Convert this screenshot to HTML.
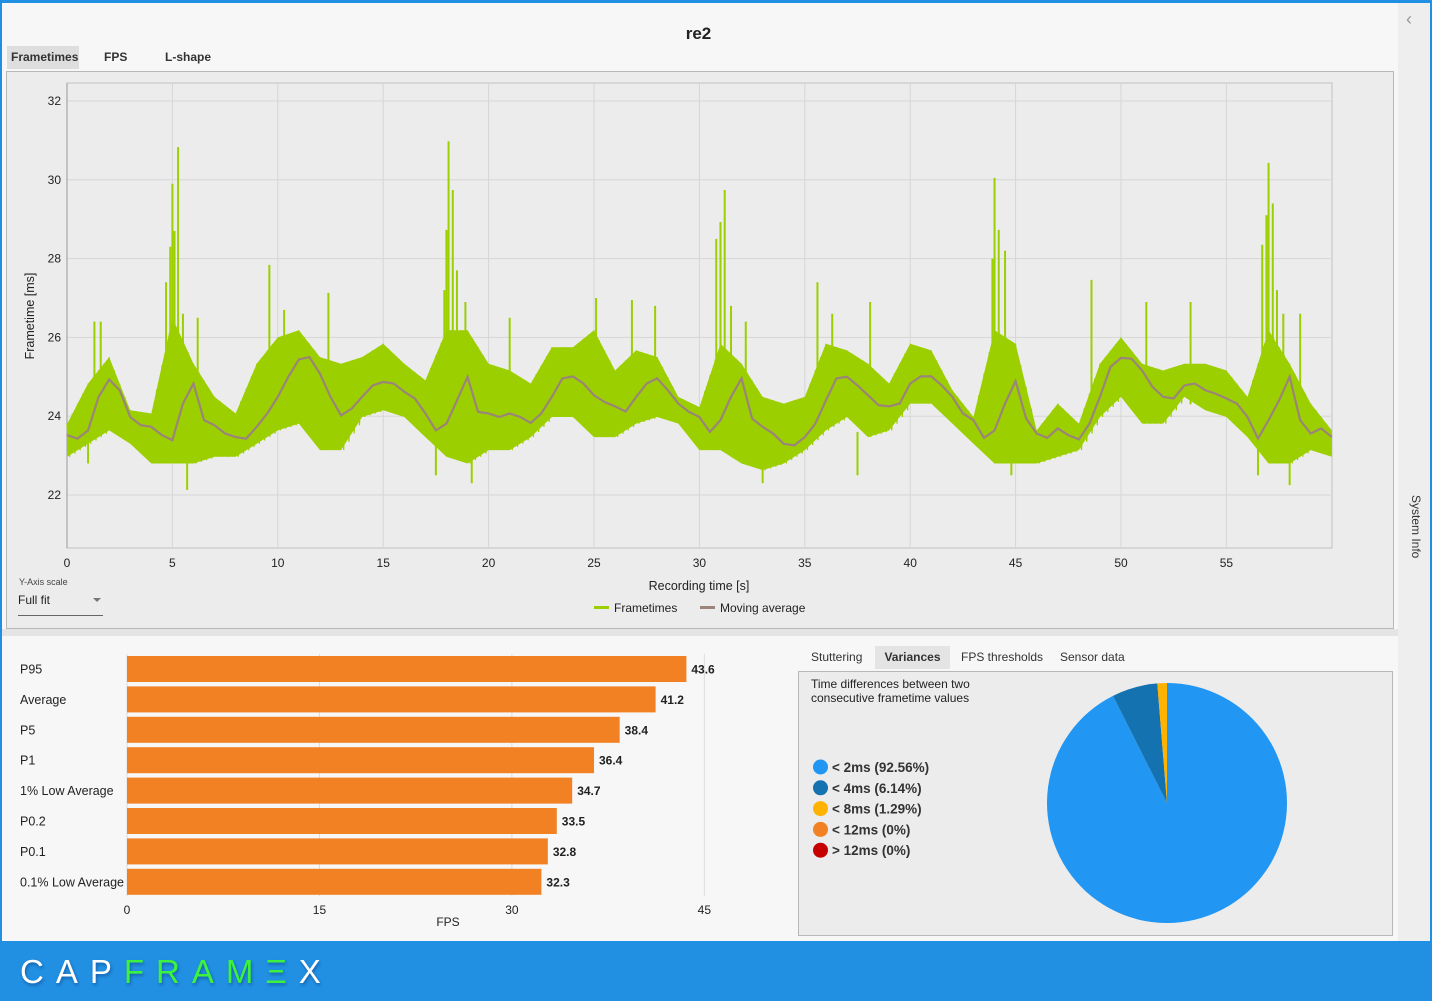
<!DOCTYPE html>
<html><head><meta charset="utf-8">
<style>
*{margin:0;padding:0;box-sizing:border-box}
body{width:1432px;height:1001px;background:#2190e3;position:relative;overflow:hidden;font-family:"Liberation Sans",Arial,sans-serif;color:#222}
.abs{position:absolute}
#main{left:2px;top:3px;width:1396px;height:938px;background:#f7f7f7}
#side{left:1398px;top:3px;width:32px;height:938px;background:#eeeeee}
.tab{position:absolute;font-size:12px;font-weight:bold;color:#333;padding:0 4px;height:23px;line-height:23px}
</style></head><body>
<div id="main" class="abs"></div>
<div id="side" class="abs">
  <div class="abs" style="left:8px;top:6px;font-size:18px;color:#999">&#8249;</div>
  <div class="abs" style="left:-12px;top:515px;width:60px;transform:rotate(90deg);font-size:12px;color:#333;white-space:nowrap">System Info</div>
</div>
<div class="abs" style="left:0;width:1397px;top:24px;text-align:center;font-size:17px;font-weight:bold;color:#222">re2</div>
<div class="tab" style="left:7px;top:46px;width:72px;background:#dedede">Frametimes</div>
<div class="tab" style="left:100px;top:46px">FPS</div>
<div class="tab" style="left:161px;top:46px">L-shape</div>
<div class="abs" style="left:6px;top:71px;width:1388px;height:558px;background:#ececec;border:1px solid #b8b8b8"></div>
<div class="abs" style="left:2px;top:629px;width:1396px;height:7px;background:#e4e4e4"></div>

<svg class="abs" style="left:0;top:0" width="1432" height="1001">
<g id="ft"></g>
</svg>

<div class="abs" style="left:19px;top:577px;font-size:9px;color:#444">Y-Axis scale</div>
<div class="abs" style="left:18px;top:593px;width:85px;height:23px;border-bottom:1px solid #666;font-size:12px;color:#222">Full fit<span style="position:absolute;right:2px;top:5px;width:0;height:0;border-left:4px solid transparent;border-right:4px solid transparent;border-top:4px solid #777"></span></div>

<div class="tab" style="left:807px;top:646px;font-weight:normal;color:#333">Stuttering</div>
<div class="tab" style="left:875px;top:646px;width:75px;text-align:center;background:#e4e4e4">Variances</div>
<div class="tab" style="left:957px;top:646px;font-weight:normal;color:#333">FPS thresholds</div>
<div class="tab" style="left:1056px;top:646px;font-weight:normal;color:#333">Sensor data</div>
<div class="abs" style="left:798px;top:671px;width:595px;height:265px;background:#ececec;border:1px solid #b8b8b8"></div>
<div class="abs" style="left:811px;top:677px;font-size:12px;line-height:14px;color:#222">Time differences between two<br>consecutive frametime values</div>

<svg class="abs" style="left:0;top:0" width="1432" height="1001">
<g id="bars"></g><g id="pie"></g>
</svg>

<div class="abs" style="left:0;top:941px;width:1432px;height:60px;background:#2190e3"></div>
<div class="abs" style="left:20px;top:953px;font-size:33px;letter-spacing:12px;font-weight:normal;white-space:nowrap;text-shadow:1px 2px 3px rgba(0,0,60,.35)"><span style="color:#fff">CAP</span><span style="color:#3cf23c">FRAM&#926;</span><span style="color:#fff">X</span></div>

<script>
// ---- Frametime chart data ----
const maTimes = [];
const maValues = [23.52,23.43,23.64,24.49,24.93,24.66,23.98,23.77,23.73,23.52,23.39,24.32,24.83,23.9,23.77,23.56,23.47,23.43,23.73,24.07,24.49,25.0,25.44,25.5,25.08,24.49,24.02,24.19,24.49,24.78,24.87,24.83,24.62,24.45,24.07,23.64,23.81,24.4,25.0,24.11,24.07,23.98,24.07,23.98,23.83,24.07,24.49,24.96,25.01,24.83,24.53,24.36,24.25,24.12,24.49,24.83,24.96,24.66,24.32,24.11,23.98,23.6,23.9,24.49,24.96,23.94,23.73,23.56,23.3,23.26,23.47,23.81,24.4,24.96,25.0,24.78,24.53,24.28,24.25,24.32,24.83,25.01,25.01,24.78,24.49,24.07,23.9,23.45,23.64,24.32,24.89,23.94,23.56,23.45,23.69,23.52,23.41,23.81,24.49,25.25,25.48,25.46,25.16,24.74,24.49,24.45,24.78,24.83,24.66,24.57,24.45,24.32,23.98,23.43,23.9,24.4,25.0,23.9,23.56,23.69,23.47];
const ftHigh = [23.8,24.83,25.5,24.15,24.07,26.5,25.33,24.49,24.07,25.33,26.0,26.18,25.5,25.33,25.5,25.84,25.33,24.91,26.18,26.18,25.33,25.16,24.83,25.75,25.75,26.18,25.16,25.67,25.5,24.49,24.23,25.84,25.33,24.49,24.32,24.49,25.84,25.67,25.33,24.83,25.84,25.67,24.66,23.98,26.18,25.84,23.64,24.32,23.81,25.33,26.0,25.33,25.16,25.33,25.33,25.16,24.49,26.18,25.33,24.32,23.64];
const ftLow = [22.97,23.3,23.64,23.3,22.8,22.8,22.8,22.97,22.97,23.3,23.64,23.81,23.14,23.14,23.98,24.15,23.98,23.47,22.97,22.8,23.14,23.14,23.47,23.98,23.98,23.47,23.47,23.81,23.98,23.81,23.14,23.14,22.8,22.63,22.8,23.14,23.64,23.98,23.47,23.64,24.32,24.32,23.81,23.3,22.8,22.8,22.8,22.97,23.14,23.98,24.49,23.81,23.81,24.49,24.15,23.98,23.47,22.8,22.8,23.14,22.97];
const spikeTimes = [1.3,1.6,4.7,4.9,5.0,5.1,5.27,5.5,6.2,9.6,10.3,12.4,17.9,18.0,18.1,18.3,18.5,18.9,21.0,25.1,26.8,27.9,30.8,31.0,31.2,31.5,32.2,35.6,36.3,38.1,43.9,44.0,44.2,44.5,48.6,51.2,53.3,56.7,56.9,57.0,57.2,57.4,57.7,58.5,1.0,5.7,17.5,19.2,33.0,37.5,44.8,56.5,58.0];
const spikeValues = [26.4,26.4,27.4,28.3,29.9,28.7,30.83,26.6,26.5,27.84,26.7,27.13,27.2,28.73,30.98,29.74,27.7,26.9,26.5,27.0,26.95,26.8,28.5,28.93,29.74,26.8,26.4,27.4,26.6,26.9,28.0,30.05,28.73,28.2,27.46,26.9,26.9,28.35,29.1,30.43,29.4,27.2,26.6,26.6,22.8,22.13,22.5,22.3,22.3,22.5,22.5,22.5,22.25];
const xTicks = [0,5,10,15,20,25,30,35,40,45,50,55];
const yTicks = [22,24,26,28,30,32];

// ---- Bar chart data ----
const barLabels = ["P95","Average","P5","P1","1% Low Average","P0.2","P0.1","0.1% Low Average"];
const barValues = [43.6,41.2,38.4,36.4,34.7,33.5,32.8,32.3];
const barTicks = [0,15,30,45];

// ---- Pie data ----
const pieLabels = ["< 2ms (92.56%)","< 4ms (6.14%)","< 8ms (1.29%)","< 12ms (0%)","> 12ms (0%)"];
const pieValues = [92.56,6.14,1.29,0,0];
const pieColors = ["#2196f3","#1472b0","#ffb300","#f28123","#c40000"];

for (let i=0;i<maValues.length;i++) maTimes.push(i*0.5);

const NS="http://www.w3.org/2000/svg";
function mk(tag, attrs, parent){const e=document.createElementNS(NS,tag);for(const k in attrs)e.setAttribute(k,attrs[k]);parent.appendChild(e);return e;}

const PL=67, PR=1332, PT=83, PB=548;
const xs = t => PL + t*21.08;
const ys = v => 495 - (v-22)*39.4;
const g = document.getElementById('ft');

const area = mk('rect',{x:PL,y:PT,width:PR-PL,height:PB-PT,fill:'#ececec',stroke:'#c2c2c2','stroke-width':1},g);


xTicks.forEach(t=>{
  const l=mk('line',{x1:xs(t),x2:xs(t),y1:PT,y2:PB,stroke:'#d6d6d6'},g);
  
  
  const tx=mk('text',{x:xs(t),y:567,'text-anchor':'middle','font-size':12,fill:'#222'},g);
  tx.textContent=t;
  
  
});
yTicks.forEach(v=>{
  const l=mk('line',{x1:PL,x2:PR,y1:ys(v),y2:ys(v),stroke:'#d6d6d6'},g);
  
  
  const tx=mk('text',{x:61,y:ys(v)+4,'text-anchor':'end','font-size':12,fill:'#222'},g);
  tx.textContent=v;
  
  
});
mk('line',{x1:PL,x2:PL,y1:PT,y2:PB,stroke:'#999'},g);

let pts=[];
for(let i=0;i<ftHigh.length;i++) pts.push(xs(Math.min(i,60))+','+ys(ftHigh[i]));
for(let i=ftLow.length-1;i>=0;i--) pts.push(xs(Math.min(i,60))+','+ys(ftLow[i]));
const band=mk('polygon',{points:pts.join(' '),fill:'#9ccf00'},g);


let zz='';
for(let i=0;i<ftHigh.length-1;i++){
  for(let k=0;k<4;k++){
    const f=k/4, t=i+f;
    const hi=ftHigh[i]*(1-f)+ftHigh[i+1]*f, lo=ftLow[i]*(1-f)+ftLow[i+1]*f;
    zz+=xs(t)+','+ys(hi)+' '+xs(t+0.125)+','+ys(lo)+' ';
  }
}
const zl=mk('polyline',{points:zz,fill:'none',stroke:'#9ccf00','stroke-width':1.2},g);


spikeTimes.forEach((t,i)=>{
  const v=spikeValues[i];
  const base = v>24 ? 24.3 : 23.6;
  const s=mk('line',{x1:xs(t),x2:xs(t),y1:ys(base),y2:ys(v),stroke:'#9ccf00','stroke-width':2},g);
  
  
});
const ma=mk('polyline',{points:maTimes.map((t,i)=>xs(t)+','+ys(maValues[i])).join(' '),fill:'none',stroke:'#9b847a','stroke-width':2.2},g);



let t1=mk('text',{x:699,y:590,'text-anchor':'middle','font-size':12.5,fill:'#222'},g);
t1.textContent='Recording time [s]';


let t2=mk('text',{x:0,y:0,'text-anchor':'middle','font-size':12.5,fill:'#222',transform:'translate(34,316) rotate(-90)'},g);
t2.textContent='Frametime [ms]';


let lg1=mk('line',{x1:594,x2:609,y1:607.5,y2:607.5,stroke:'#9ccf00','stroke-width':3},g);


let lt1=mk('text',{x:614,y:612,'font-size':12,fill:'#222'},g);
lt1.textContent='Frametimes';


let lg2=mk('line',{x1:700,x2:715,y1:607.5,y2:607.5,stroke:'#9b847a','stroke-width':3},g);


let lt2=mk('text',{x:720,y:612,'font-size':12,fill:'#222'},g);
lt2.textContent='Moving average';



const bg=document.getElementById('bars');
const bx = v => 127 + v*12.83;
barTicks.forEach(v=>{
  const l=mk('line',{x1:bx(v),x2:bx(v),y1:654,y2:896,stroke:'#dddddd'},bg);
  
  
  const tx=mk('text',{x:bx(v),y:914,'text-anchor':'middle','font-size':12,fill:'#222'},bg);
  tx.textContent=v;
  
  
});
barLabels.forEach((lab,i)=>{
  const cy=669+i*30.4;
  const r=mk('rect',{x:bx(0),y:cy-13,width:bx(barValues[i])-bx(0),height:26,fill:'#f28123'},bg);
  
  
  const tl=mk('text',{x:20,y:cy+4.5,'font-size':12.5,fill:'#222'},bg);
  tl.textContent=lab;
  
  
  const tv=mk('text',{x:bx(barValues[i])+5,y:cy+4.5,'font-size':12,'font-weight':'bold',fill:'#222'},bg);
  tv.textContent=barValues[i];
  
  
});
const fx=mk('text',{x:448,y:926,'text-anchor':'middle','font-size':12,fill:'#222'},bg);
fx.textContent='FPS';



const pg=document.getElementById('pie');
const cx=1167, cy=803, R=120;
const total=pieValues.reduce((a,b)=>a+b,0);
let ang=0;
pieValues.forEach((v,i)=>{
  if(v<=0) return;
  const a0=ang, a1=ang+v/total*2*Math.PI; ang=a1;
  const p0=[cx+R*Math.sin(a0),cy-R*Math.cos(a0)], p1=[cx+R*Math.sin(a1),cy-R*Math.cos(a1)];
  const large=(a1-a0)>Math.PI?1:0;
  const s=mk('path',{d:`M${cx},${cy} L${p0[0]},${p0[1]} A${R},${R} 0 ${large} 1 ${p1[0]},${p1[1]} Z`,fill:pieColors[i]},pg);
  
  
});
pieLabels.forEach((lab,i)=>{
  const y=767+i*20.8;
  const c=mk('circle',{cx:820.5,cy:y,r:7.5,fill:pieColors[i]},pg);
  
  
  const t=mk('text',{x:832,y:y+5,'font-size':13.5,'font-weight':'bold',fill:'#333'},pg);
  t.textContent=lab;
  
  
});
</script>
</body></html>
